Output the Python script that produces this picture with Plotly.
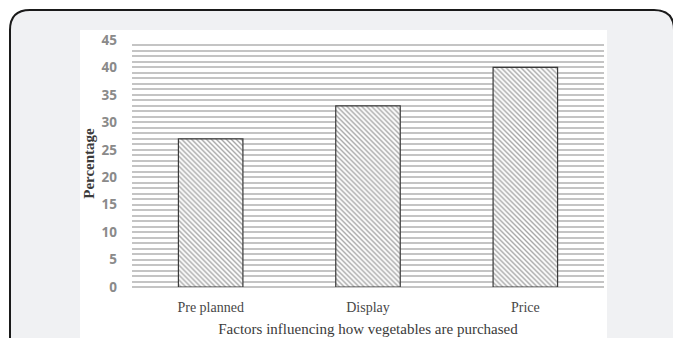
import plotly.graph_objects as go

# Survey results
categories = ["Pre planned", "Display", "Price"]
percentages = [27, 33, 40]
y_ticks = [0, 5, 10, 15, 20, 25, 30, 35, 40, 45]

W, H = 673, 338
# plot area in pixels
L, R, T, B = 132, 604, 40, 287


def px(x):
    return (x - L) / (R - L)


def py(y):
    return (B - y) / (B - T)


def rounded_frame(x0, y0, x1, y1, r):
    return (
        f"M {px(x0)},{py(y1)} L {px(x0)},{py(y0 + r)} "
        f"Q {px(x0)},{py(y0)} {px(x0 + r)},{py(y0)} "
        f"L {px(x1 - r)},{py(y0)} "
        f"Q {px(x1)},{py(y0)} {px(x1)},{py(y0 + r)} "
        f"L {px(x1)},{py(y1)}"
    )


fig = go.Figure(
    go.Bar(
        x=categories,
        y=percentages,
        marker=dict(
            color="white",
            line=dict(color="#3a3a3a", width=1.2),
            pattern=dict(shape="\\", fgcolor="#4a4a4a", bgcolor="white",
                         size=3.5, solidity=0.4),
        ),
        width=0.41,
    )
)

grid = "#c4c4c4"
fig.update_layout(
    width=W,
    height=H,
    margin=dict(l=L, r=W - R, t=T, b=H - B),
    paper_bgcolor="white",
    plot_bgcolor="rgba(0,0,0,0)",
    showlegend=False,
    shapes=[
        dict(type="path", xref="paper", yref="paper", layer="below",
             path=rounded_frame(10, 10, 674, 420, 20),
             fillcolor="#f0f1f3", line=dict(color="#1a1a1a", width=2)),
        dict(type="rect", xref="paper", yref="paper", layer="below",
             x0=px(80), x1=px(607), y0=py(420), y1=py(30),
             fillcolor="white", line=dict(width=0)),
    ],
    xaxis=dict(
        automargin=False,
        showgrid=False,
        showline=False,
        ticks="",
        tickfont=dict(family="Liberation Serif", size=14, color="#474747"),
        ticklabelstandoff=10,
        title=dict(text="Factors influencing how vegetables are purchased",
                   font=dict(family="Liberation Serif", size=15, color="#3a3a3a"),
                   standoff=9),
    ),
    yaxis=dict(
        automargin=False,
        range=[0, 45],
        tickvals=y_ticks,
        showgrid=True,
        gridcolor=grid,
        gridwidth=1.5,
        zeroline=True,
        zerolinecolor=grid,
        zerolinewidth=1.5,
        minor=dict(dtick=1, showgrid=True, gridcolor=grid, gridwidth=1.5),
        ticks="",
        ticklabelstandoff=14,
        tickfont=dict(family="Open Sans", size=13.5, color="#8a8a8a", weight="bold"),
        title=dict(text="Percentage",
                   font=dict(family="Liberation Serif", size=15, color="#3a3a3a",
                             weight="bold"),
                   standoff=3),
    ),
)

fig.write_html("out.html")
